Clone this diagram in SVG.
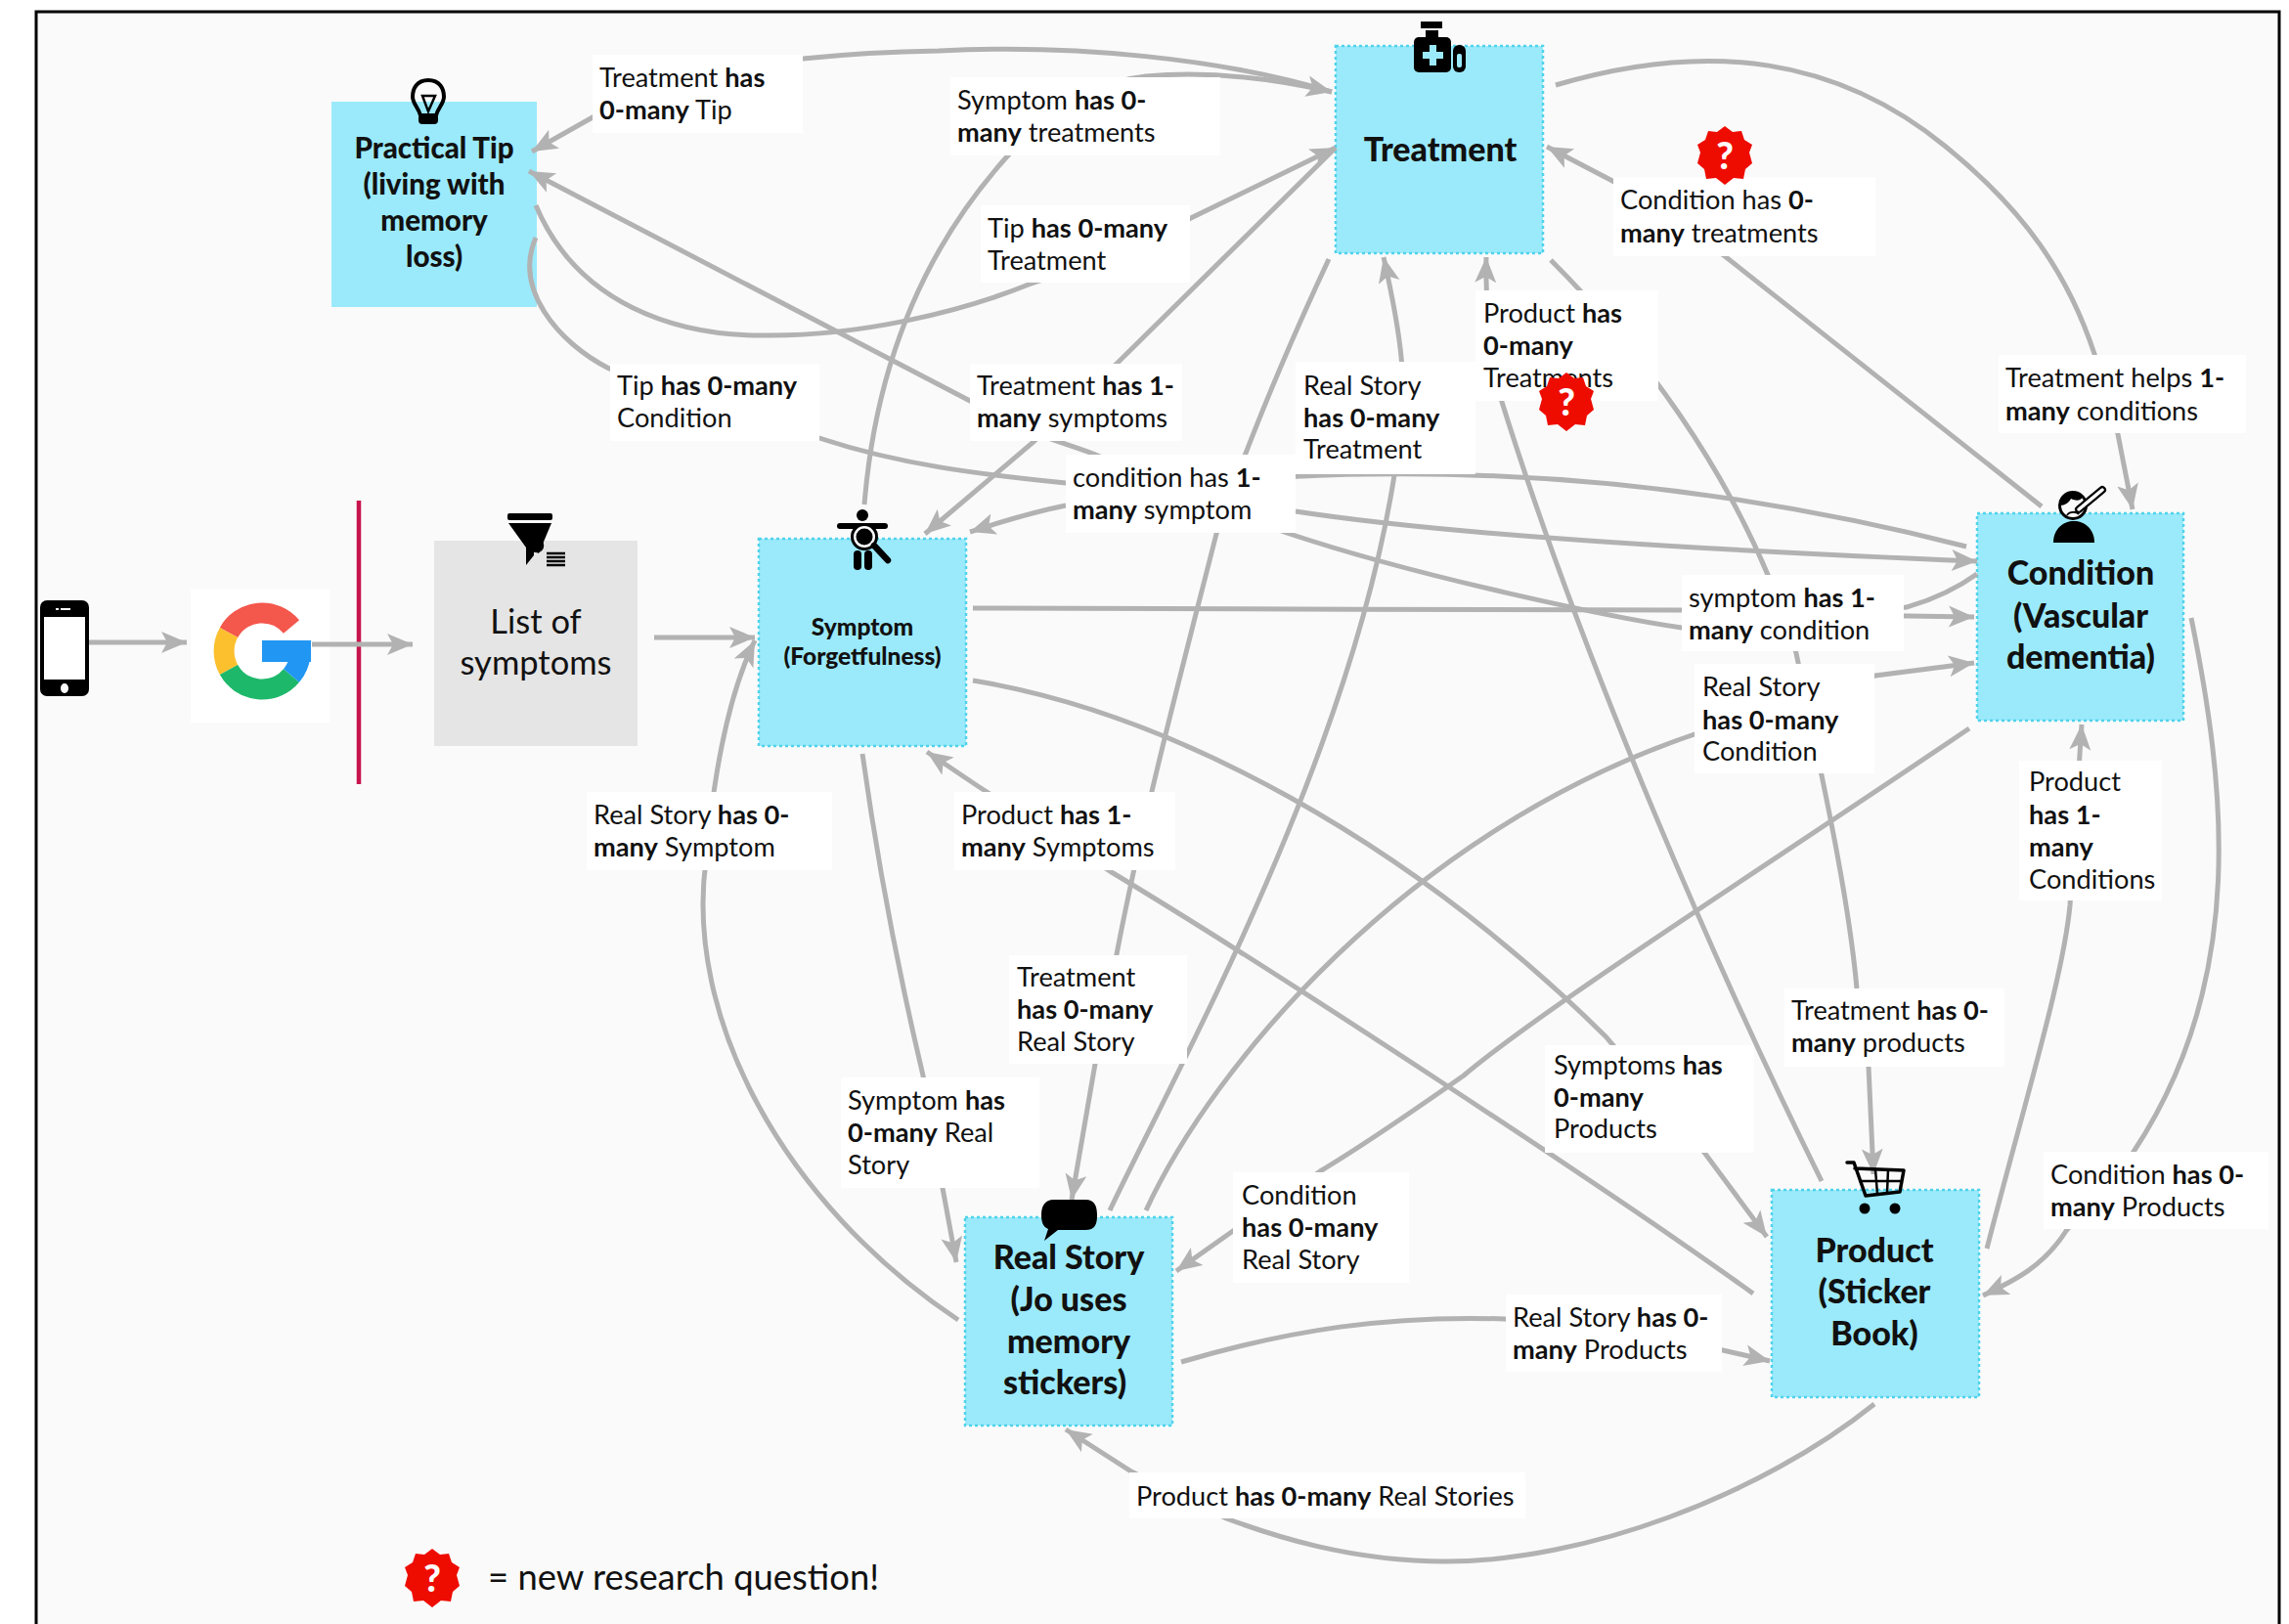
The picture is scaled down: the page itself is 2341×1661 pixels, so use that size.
<svg xmlns="http://www.w3.org/2000/svg" xmlns:xlink="http://www.w3.org/1999/xlink" width="2341" height="1661" viewBox="0 0 2341 1661">
<style>
.c{fill:none;stroke:#b2b2b2;stroke-width:5;marker-end:url(#ah)}
.n{fill:none;stroke:#b2b2b2;stroke-width:5}
.box{fill:#9beafb;stroke:#4fd3ea;stroke-width:2.5;stroke-dasharray:3 3}
.lb{fill:#fff}
text{font-family:"Lato","Liberation Sans",sans-serif;fill:#111}
.t{font-size:27.2px}
.t tspan.b{font-weight:700}
.h{font-weight:900;text-anchor:middle;font-size:34px}
.k{fill:#000}
</style>
<defs>
<marker id="ah" markerUnits="userSpaceOnUse" markerWidth="28" markerHeight="26" refX="26" refY="12" orient="auto"><path d="M0,1 L26,12 L0,23 L6,12 Z" fill="#b2b2b2"/></marker>
<g id="badge"><polygon points="0,-30 8,-24 17,-25 20,-16 28,-11 25,-3 28,8 21,14 19,24 9,23 0,30 -9,23 -19,24 -21,14 -28,8 -25,-3 -28,-11 -20,-16 -17,-25 -8,-24" fill="#ee0c00"/><text x="0" y="14" text-anchor="middle" font-size="38" font-weight="900" style="fill:#fff">?</text></g>
</defs>
<rect width="2341" height="1661" fill="#fff"/>
<path d="M37,1661 V12 H2331 V1661" fill="#fafafa" stroke="#000" stroke-width="3"/>

<g id="divider"><line x1="367" y1="512" x2="367" y2="802" stroke="#c7144c" stroke-width="4.5"/></g>

<g id="google"><rect x="195" y="603" width="142" height="136" fill="#fff"/>
<g fill="none" stroke-width="21"><path d="M298,641 A39,39 0 0 0 234,647" stroke="#f4574c"/><path d="M234,647 A39,39 0 0 0 234,685" stroke="#fcc02e"/><path d="M234,685 A39,39 0 0 0 298,691" stroke="#1eb86b"/><path d="M298,691 A39,39 0 0 0 307,670" stroke="#2196f3"/></g>
<rect x="268" y="655" width="50" height="22" fill="#2196f3"/></g>

<g id="node-tip"><rect x="339" y="104" width="210" height="210" fill="#9beafb"/>
<text class="h" style="font-size:29.5px" x="444" y="162">Practical Tip</text><text class="h" style="font-size:29.5px" x="444" y="199">(living with</text><text class="h" style="font-size:29.5px" x="444" y="236">memory</text><text class="h" style="font-size:29.5px" x="444" y="273">loss)</text></g>

<g id="node-treatment"><rect class="box" x="1366" y="47" width="212" height="212"/><text class="h" x="1473" y="165">Treatment</text></g>

<g id="node-list"><rect x="444" y="553" width="208" height="210" fill="#e5e5e5"/><text x="548" y="648" text-anchor="middle" font-size="34.5">List of</text><text x="548" y="690" text-anchor="middle" font-size="34.5">symptoms</text></g>

<g id="node-symptom"><rect class="box" x="776" y="551" width="212" height="212"/><text class="h" style="font-size:24.5px" x="882" y="650">Symptom</text><text class="h" style="font-size:24.5px" x="882" y="680">(Forgetfulness)</text></g>

<g id="node-condition"><rect class="box" x="2022" y="525" width="211" height="212"/><text class="h" x="2128" y="598">Condition</text><text class="h" x="2128" y="642">(Vascular</text><text class="h" x="2128" y="684">dementia)</text></g>

<g id="node-story"><rect class="box" x="987" y="1245" width="212" height="213"/><text class="h" x="1093" y="1298">Real Story</text><text class="h" x="1093" y="1341">(Jo uses</text><text class="h" x="1093" y="1384">memory</text><text class="h" x="1089" y="1426">stickers)</text></g>

<g id="node-product"><rect class="box" x="1812" y="1217" width="212" height="212"/><text class="h" x="1917" y="1291">Product</text><text class="h" x="1917" y="1333">(Sticker</text><text class="h" x="1917" y="1376">Book)</text></g>

<g id="connectors">
<path class="c" d="M88,657 H191"/>
<path class="c" d="M319,659 H422"/>
<path class="c" d="M669,652 H772"/>
<path class="c" d="M980,1350 C800,1230 700,1040 722,880 C730,790 745,710 772,655"/>
<path class="c" d="M1362,94 C1250,60 1100,45 960,52 C900,53 850,57 821,60 L700,70 L606,120 L544,155"/>
<path class="c" d="M884,516 C895,380 940,260 1030,160 C1080,105 1130,82 1172,78 C1240,72 1310,82 1362,94"/>
<path class="c" d="M548,210 C590,310 690,345 788,343 C880,343 980,320 1052,291 C1120,268 1200,235 1218,223 L1366,151"/>
<path class="n" d="M548,243 C525,295 570,350 623,377 L841,449 C920,475 1000,485 1090,494 C1200,500 1300,485 1400,485 C1600,482 1800,505 2011,559"/>
<path class="c" d="M1366,151 L1144,370 L1057,452 L946,546"/>
<path class="c" d="M2022,587 C1990,610 1960,618 1950,621 L1720,642 C1650,632 1450,590 1316,545 C1250,520 1180,490 1118,464 C1080,450 1040,440 992,410 L541,175"/>
<path class="c" d="M1325,523 C1500,550 1800,565 2022,574"/>
<path class="c" d="M1090,517 C1050,525 1020,535 992,544"/>
<path class="c" d="M995,622 C1200,622 1500,624 1720,624 L1950,630 L2019,631"/>
<path class="c" d="M1135,1238 C1200,1100 1380,780 1426,486 C1445,400 1430,330 1415,263"/>
<path class="c" d="M1359,265 C1310,370 1270,470 1244,546 C1210,680 1170,830 1142,976 L1120,1088 L1096,1227"/>
<path class="c" d="M882,771 C900,900 925,1020 944,1100 L964,1215 L978,1291"/>
<path class="c" d="M1172,1238 C1240,1090 1440,850 1733,751 L1918,691 L2019,678"/>
<path class="c" d="M2014,745 C1800,890 1580,1030 1497,1100 C1440,1140 1380,1180 1350,1198 L1261,1259 L1203,1300"/>
<path class="c" d="M1793,1323 C1650,1220 1300,990 1135,891 L1000,804 L948,769"/>
<path class="c" d="M995,696 C1200,730 1440,860 1642,1060 L1744,1180 L1807,1265"/>
<path class="c" d="M1863,1208 C1760,1000 1620,680 1536,411 C1530,370 1518,330 1520,263"/>
<path class="c" d="M1586,266 C1660,340 1780,480 1837,668 C1860,780 1890,910 1899,1011 L1911,1091 L1916,1201"/>
<path class="c" d="M2088,518 L1764,262 L1649,185 L1582,150"/>
<path class="c" d="M1591,87 C1750,40 1880,60 1990,150 C2070,215 2115,280 2142,362 L2166,444 L2181,521"/>
<path class="c" d="M2032,1277 C2070,1130 2110,1000 2117,926 L2129,741"/>
<path class="c" d="M2241,632 C2275,800 2300,1000 2182,1178 L2113,1259 C2090,1295 2060,1310 2028,1325"/>
<path class="c" d="M1208,1393 C1320,1360 1420,1345 1539,1349 L1762,1381 L1810,1392"/>
<path class="c" d="M1917,1436 C1800,1530 1620,1597 1479,1597 C1380,1597 1300,1570 1254,1553 L1157,1505 L1090,1462"/>
</g>

<g id="labels">
<g><rect class="lb" x="606" y="56" width="215" height="80"/><text class="t" x="613" y="89">Treatment <tspan class="b">has</tspan></text><text class="t" x="613" y="122"><tspan class="b">0-many</tspan> Tip</text></g>
<g><rect class="lb" x="972" y="79" width="276" height="80"/><text class="t" x="979" y="112">Symptom <tspan class="b">has 0-</tspan></text><text class="t" x="979" y="145"><tspan class="b">many</tspan> treatments</text></g>
<g><rect class="lb" x="1003" y="210" width="214" height="79"/><text class="t" x="1010" y="243">Tip <tspan class="b">has 0-many</tspan></text><text class="t" x="1010" y="276">Treatment</text></g>
<g><rect class="lb" x="624" y="372" width="214" height="79"/><text class="t" x="631" y="404">Tip <tspan class="b">has 0-many</tspan></text><text class="t" x="631" y="437">Condition</text></g>
<g><rect class="lb" x="992" y="372" width="217" height="79"/><text class="t" x="999" y="404">Treatment <tspan class="b">has 1-</tspan></text><text class="t" x="999" y="437"><tspan class="b">many</tspan> symptoms</text></g>
<g><rect class="lb" x="1090" y="465" width="235" height="80"/><text class="t" x="1097" y="498">condition has <tspan class="b">1-</tspan></text><text class="t" x="1097" y="531"><tspan class="b">many</tspan> symptom</text></g>
<g><rect class="lb" x="1325" y="370" width="184" height="115"/><text class="t" x="1333" y="404">Real Story</text><text class="t" x="1333" y="437"><tspan class="b">has 0-many</tspan></text><text class="t" x="1333" y="469">Treatment</text></g>
<g><rect class="lb" x="1509" y="297" width="187" height="113"/><text class="t" x="1517" y="330">Product <tspan class="b">has</tspan></text><text class="t" x="1517" y="363"><tspan class="b">0-many</tspan></text><text class="t" x="1517" y="396">Treatments</text></g>
<g><rect class="lb" x="1650" y="181" width="268" height="81"/><text class="t" x="1657" y="214">Condition has <tspan class="b">0-</tspan></text><text class="t" x="1657" y="248"><tspan class="b">many</tspan> treatments</text></g>
<g><rect class="lb" x="2044" y="363" width="253" height="80"/><text class="t" x="2051" y="396">Treatment helps <tspan class="b">1-</tspan></text><text class="t" x="2051" y="430"><tspan class="b">many</tspan> conditions</text></g>
<g><rect class="lb" x="1720" y="588" width="227" height="78"/><text class="t" x="1727" y="621">symptom <tspan class="b">has 1-</tspan></text><text class="t" x="1727" y="654"><tspan class="b">many</tspan> condition</text></g>
<g><rect class="lb" x="1733" y="679" width="184" height="112"/><text class="t" x="1741" y="712">Real Story</text><text class="t" x="1741" y="746"><tspan class="b">has 0-many</tspan></text><text class="t" x="1741" y="778">Condition</text></g>
<g><rect class="lb" x="2065" y="778" width="146" height="143"/><text class="t" x="2075" y="809">Product</text><text class="t" x="2075" y="843"><tspan class="b">has 1-</tspan></text><text class="t" x="2075" y="876"><tspan class="b">many</tspan></text><text class="t" x="2075" y="909">Conditions</text></g>
<g><rect class="lb" x="600" y="810" width="251" height="80"/><text class="t" x="607" y="843">Real Story <tspan class="b">has 0-</tspan></text><text class="t" x="607" y="876"><tspan class="b">many</tspan> Symptom</text></g>
<g><rect class="lb" x="976" y="810" width="226" height="80"/><text class="t" x="983" y="843">Product <tspan class="b">has 1-</tspan></text><text class="t" x="983" y="876"><tspan class="b">many</tspan> Symptoms</text></g>
<g><rect class="lb" x="1032" y="977" width="182" height="111"/><text class="t" x="1040" y="1009">Treatment</text><text class="t" x="1040" y="1042"><tspan class="b">has 0-many</tspan></text><text class="t" x="1040" y="1075">Real Story</text></g>
<g><rect class="lb" x="860" y="1102" width="203" height="113"/><text class="t" x="867" y="1135">Symptom <tspan class="b">has</tspan></text><text class="t" x="867" y="1168"><tspan class="b">0-many</tspan> Real</text><text class="t" x="867" y="1201">Story</text></g>
<g><rect class="lb" x="1580" y="1069" width="214" height="110"/><text class="t" x="1589" y="1099">Symptoms <tspan class="b">has</tspan></text><text class="t" x="1589" y="1132"><tspan class="b">0-many</tspan></text><text class="t" x="1589" y="1164">Products</text></g>
<g><rect class="lb" x="1825" y="1011" width="225" height="80"/><text class="t" x="1832" y="1043">Treatment <tspan class="b">has 0-</tspan></text><text class="t" x="1832" y="1076"><tspan class="b">many</tspan> products</text></g>
<g><rect class="lb" x="1261" y="1199" width="180" height="113"/><text class="t" x="1270" y="1232">Condition</text><text class="t" x="1270" y="1265"><tspan class="b">has 0-many</tspan></text><text class="t" x="1270" y="1298">Real Story</text></g>
<g><rect class="lb" x="2090" y="1178" width="230" height="79"/><text class="t" x="2097" y="1211">Condition <tspan class="b">has 0-</tspan></text><text class="t" x="2097" y="1244"><tspan class="b">many</tspan> Products</text></g>
<g><rect class="lb" x="1540" y="1324" width="221" height="79"/><text class="t" x="1547" y="1357">Real Story <tspan class="b">has 0-</tspan></text><text class="t" x="1547" y="1390"><tspan class="b">many</tspan> Products</text></g>
<g><rect class="lb" x="1155" y="1506" width="405" height="47"/><text class="t" x="1162" y="1540">Product <tspan class="b">has 0-many</tspan> Real Stories</text></g>
</g>

<g id="phone"><rect x="41" y="614" width="50" height="98" rx="7" class="k"/><rect x="45" y="631" width="42" height="64" fill="#fff"/><ellipse cx="66" cy="704" rx="4" ry="5" fill="#fff"/><rect x="57" y="622" width="3" height="2" fill="#fff"/><rect x="62" y="622" width="10" height="2" fill="#fff"/></g>

<g id="icon-tip"><path d="M438,82 C426,82 422,91 422,99 C422,106 428,110 430,118 L446,118 C448,110 454,106 454,99 C454,91 450,82 438,82 Z" fill="none" stroke="#000" stroke-width="4"/><polygon points="432,98 445,98 438,114" fill="none" stroke="#000" stroke-width="2.5"/><rect x="428" y="117" width="20" height="10" rx="4" class="k"/></g>
<g id="icon-treatment"><rect x="1453" y="22" width="22" height="7" class="k"/><rect x="1458" y="31" width="13" height="8" class="k"/><rect x="1446" y="38" width="38" height="36" rx="5" class="k"/><path d="M1462,46 h7 v7 h7 v7 h-7 v7 h-7 v-7 h-7 v-7 h7 z" fill="#9beafb"/><rect x="1486" y="46" width="13" height="28" rx="6" class="k"/><rect x="1490" y="55" width="5" height="14" rx="2" fill="#9beafb"/></g>
<g id="icon-list"><rect x="519" y="525" width="46" height="7" rx="2" class="k"/><polygon points="520,535 564,535 551,566 546,563 546,568 538,578 538,560" class="k"/><circle cx="549" cy="558" r="6" fill="none" stroke="#000" stroke-width="2.5"/><path d="M559,566 h19 M559,570 h19 M559,574 h19 M559,578 h19" stroke="#000" stroke-width="2.5"/></g>
<g id="icon-symptom"><circle cx="882" cy="527" r="6" class="k"/><path d="M859,538 H905" stroke="#000" stroke-width="6" stroke-linecap="round"/><circle cx="884" cy="549" r="12.5" fill="#fff" stroke="#000" stroke-width="3"/><circle cx="884" cy="549" r="8.5" class="k"/><rect x="873" y="563" width="8" height="20" rx="4" class="k"/><rect x="884" y="563" width="8" height="20" rx="4" class="k"/><path d="M894,558 L908,573" stroke="#000" stroke-width="6.5" stroke-linecap="round"/></g>
<g id="icon-condition"><path d="M2100,555 C2100,541 2110,533 2121,533 C2132,533 2142,541 2142,555 Z" class="k"/><circle cx="2120" cy="517" r="13.5" fill="#fafafa" stroke="#000" stroke-width="3"/><path d="M2107,517 C2106,508 2114,503 2120,503 C2125,503 2128,505 2130,508 C2128,513 2122,512 2118,510 C2116,514 2112,517 2107,517 Z" class="k"/><path d="M2114,527 C2116,523 2124,523 2126,526" fill="none" stroke="#000" stroke-width="2"/><path d="M2126,521 L2150,501" stroke="#000" stroke-width="8" stroke-linecap="round"/><path d="M2126,521 L2150,501" stroke="#fff" stroke-width="3.5" stroke-linecap="round"/></g>
<g id="icon-story"><path d="M1078,1227 H1110 C1120,1227 1122,1234 1122,1243 C1122,1252 1120,1258 1110,1258 H1082 L1068,1269 L1072,1257 C1067,1255 1065,1250 1065,1243 C1065,1234 1068,1227 1078,1227 Z" class="k"/></g>
<g id="icon-product"><path d="M1889,1189 H1896 L1908,1223 L1943,1219 L1947,1197 L1897,1195" fill="none" stroke="#000" stroke-width="3.5" stroke-linejoin="round" stroke-linecap="round"/><path d="M1918,1196 L1920,1221 M1931,1196 L1930,1220 M1901,1208 L1945,1208" stroke="#000" stroke-width="2.5"/><circle cx="1907" cy="1236" r="5.5" class="k"/><circle cx="1938" cy="1236" r="5.5" class="k"/></g>

<g id="questions"><use xlink:href="#badge" href="#badge" x="1764" y="159"/><use xlink:href="#badge" href="#badge" x="1602" y="411"/></g>
<g id="legend"><use xlink:href="#badge" href="#badge" x="442" y="1614"/><text x="499" y="1626" font-size="36.4">= new research question!</text></g>
</svg>
